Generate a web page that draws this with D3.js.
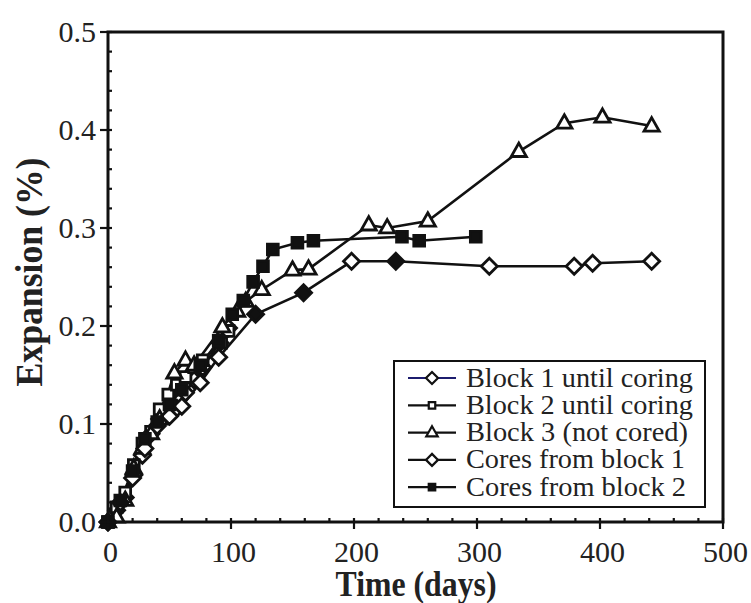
<!DOCTYPE html>
<html><head><meta charset="utf-8">
<script src="https://cdn.jsdelivr.net/npm/d3@7"></script>
<style>body{margin:0;background:#fff}svg{display:block}
svg text{font-family:"Liberation Serif","Times New Roman",Times,serif;}
</style>
</head><body>
<svg id="c" width="751" height="603"></svg>
<script>
// ---- data (days, expansion %) ----
const block1Days = [0,7,14,21,28,35,42,49,56,63,70,77,91,98];
const block1Vals = [0,0.012,0.025,0.048,0.068,0.09,0.105,0.112,0.116,0.132,0.145,0.158,0.183,0.198];
const block2Days = [0,7,14,21,28,35,42,49,56,63,70,77,92,98];
const block2Vals = [0,0.015,0.03,0.058,0.08,0.092,0.115,0.13,0.14,0.148,0.158,0.165,0.183,0.195];
const block3Days = [0,7,14,21,28,35,42,54,63,70,93,105,112,125,150,163,212,227,260,334,371,402,442];
const block3Vals = [0,0.005,0.022,0.055,0.075,0.09,0.105,0.152,0.165,0.16,0.199,0.215,0.225,0.237,0.257,0.258,0.303,0.300,0.307,0.378,0.407,0.413,0.404];
const cores1Days = [0,10,20,30,40,50,60,75,90,120,159,198,234,310,379,394,442];
const cores1Vals = [0,0.02,0.045,0.075,0.098,0.108,0.118,0.142,0.168,0.212,0.234,0.266,0.266,0.261,0.261,0.264,0.266];
const cores2Days = [0,10,20,30,40,50,60,75,90,101,110,118,126,134,154,167,239,253,299];
const cores2Vals = [0,0.022,0.052,0.085,0.102,0.12,0.135,0.16,0.185,0.212,0.226,0.245,0.261,0.278,0.285,0.287,0.291,0.287,0.291];
const seriesNames = ["Block 1 until coring","Block 2 until coring","Block 3 (not cored)","Cores from block 1","Cores from block 2"];
const xTicks = [0,100,200,300,400,500];
const yTicks = [0.0,0.1,0.2,0.3,0.4,0.5];

const series = [
  {name:seriesNames[0], days:block1Days, vals:block1Vals, sym:"diamond", fill:false, color:"#1c1c6e"},
  {name:seriesNames[1], days:block2Days, vals:block2Vals, sym:"square", fill:false, color:"#111"},
  {name:seriesNames[2], days:block3Days, vals:block3Vals, sym:"triangle", fill:false, color:"#111"},
  {name:seriesNames[3], days:cores1Days, vals:cores1Vals, sym:"diamond", fill:false, color:"#111"},
  {name:seriesNames[4], days:cores2Days, vals:cores2Vals, sym:"square", fill:true, color:"#111"}
];
const filledCoreDiamondDays = [120,159,234]; // markers drawn solid in the original
const legendTextWidths = [227,227,222,219,220];

const L=108, R=723, T=32, B=522;
const x = d3.scaleLinear().domain([0,500]).range([L,R]);
const y = d3.scaleLinear().domain([0,0.5]).range([B,T]);
const svg = d3.select("#c");
const font = "Liberation Serif";

function symPath(sym, s){
  if(sym==="diamond") return `M0,${-s}L${s},0L0,${s}L${-s},0Z`;
  if(sym==="square") return `M${-s*0.72},${-s*0.72}h${s*1.44}v${s*1.44}h${-s*1.44}Z`;
  if(sym==="triangle") return `M0,${-s*1.05}L${s*0.95},${s*0.62}L${-s*0.95},${s*0.62}Z`;
}

// lines + markers
const line = d3.line().x(d=>x(d[0])).y(d=>y(d[1]));
const g = svg.append("g");
series.forEach(s=>{
  const pts = s.days.map((d,i)=>[d,s.vals[i]]);
  g.append("path").attr("d",line(pts)).attr("fill","none").attr("stroke","#111").attr("stroke-width",2.6);
});
series.forEach((s,si)=>{
  const pts = s.days.map((d,i)=>[d,s.vals[i]]);
  g.selectAll(null).data(pts).enter().append("path")
    .attr("transform",d=>`translate(${x(d[0])},${y(d[1])})`)
    .attr("d",symPath(s.sym, s.sym==="square"?7.5:8))
    .attr("fill",d=> (s.fill || (si===3 && filledCoreDiamondDays.includes(d[0]))) ? "#111" : "#fff")
    .attr("stroke","#111").attr("stroke-width",2.8).attr("stroke-linejoin","miter");
});

// axes
const xAxis = d3.axisBottom(x).tickValues(xTicks).tickSize(0).tickFormat(d3.format("d"));
const yAxis = d3.axisLeft(y).tickValues(yTicks).tickSize(0).tickFormat(d3.format(".1f"));
const gx = svg.append("g").attr("transform",`translate(0,${B})`).call(xAxis);
gx.select(".domain").remove();
gx.selectAll("text").attr("font-family",font).attr("font-size",30).attr("fill","#222").attr("dy",0).attr("y",40).attr("dx",2);
const gy = svg.append("g").attr("transform",`translate(${L},0)`).call(yAxis);
gy.select(".domain").remove();
gy.selectAll("text").attr("font-family",font).attr("font-size",30).attr("fill","#222").attr("x",-12).attr("dy","0.3em");

// ticks
const tk = svg.append("g").attr("stroke","#111");
x.ticks(25).forEach(v=>{
  const major = v%100===0;
  tk.append("line").attr("x1",x(v)).attr("x2",x(v)).attr("y1",B-4).attr("y2",major?B+7:B).attr("stroke-width",2.2);
});
y.ticks(25).forEach(v=>{
  const major = Math.abs(Math.round(v*10)-v*10)<1e-6;
  tk.append("line").attr("y1",y(v)).attr("y2",y(v)).attr("x1",major?L-8:L).attr("x2",L+4).attr("stroke-width",2.2);
});
// frame
svg.append("rect").attr("x",L).attr("y",T).attr("width",R-L).attr("height",B-T).attr("fill","none").attr("stroke","#111").attr("stroke-width",3);

// titles
svg.append("text").attr("x",416).attr("y",596).attr("text-anchor","middle").attr("font-family",font).attr("font-weight","bold").attr("font-size",35)
  .attr("textLength",161).attr("lengthAdjust","spacingAndGlyphs").attr("fill","#222").text("Time (days)");
svg.append("text").attr("transform",`translate(42,272) rotate(-90)`).attr("text-anchor","middle").attr("font-family",font).attr("font-weight","bold").attr("font-size",37)
  .attr("textLength",229).attr("lengthAdjust","spacingAndGlyphs").attr("fill","#222").text("Expansion (%)");

// legend
const lg = svg.append("g");
lg.append("rect").attr("x",394).attr("y",361).attr("width",311).attr("height",146).attr("fill","#fff").attr("stroke","#111").attr("stroke-width",2);
series.forEach((s,i)=>{
  const yy = 378 + i*27.3;
  lg.append("line").attr("x1",408).attr("x2",456).attr("y1",yy).attr("y2",yy).attr("stroke",s.color).attr("stroke-width",2.2);
  lg.append("path").attr("transform",`translate(432,${yy})`).attr("d",symPath(s.sym, s.sym==="square"?4.5:6))
    .attr("fill",s.fill?"#111":"#fff").attr("stroke","#111").attr("stroke-width",2.2);
  lg.append("text").attr("x",466).attr("y",yy+8.5).attr("font-family",font).attr("font-size",28).attr("fill","#222")
    .attr("textLength",legendTextWidths[i]).attr("lengthAdjust","spacingAndGlyphs").text(s.name);
});
</script>
</body></html>
